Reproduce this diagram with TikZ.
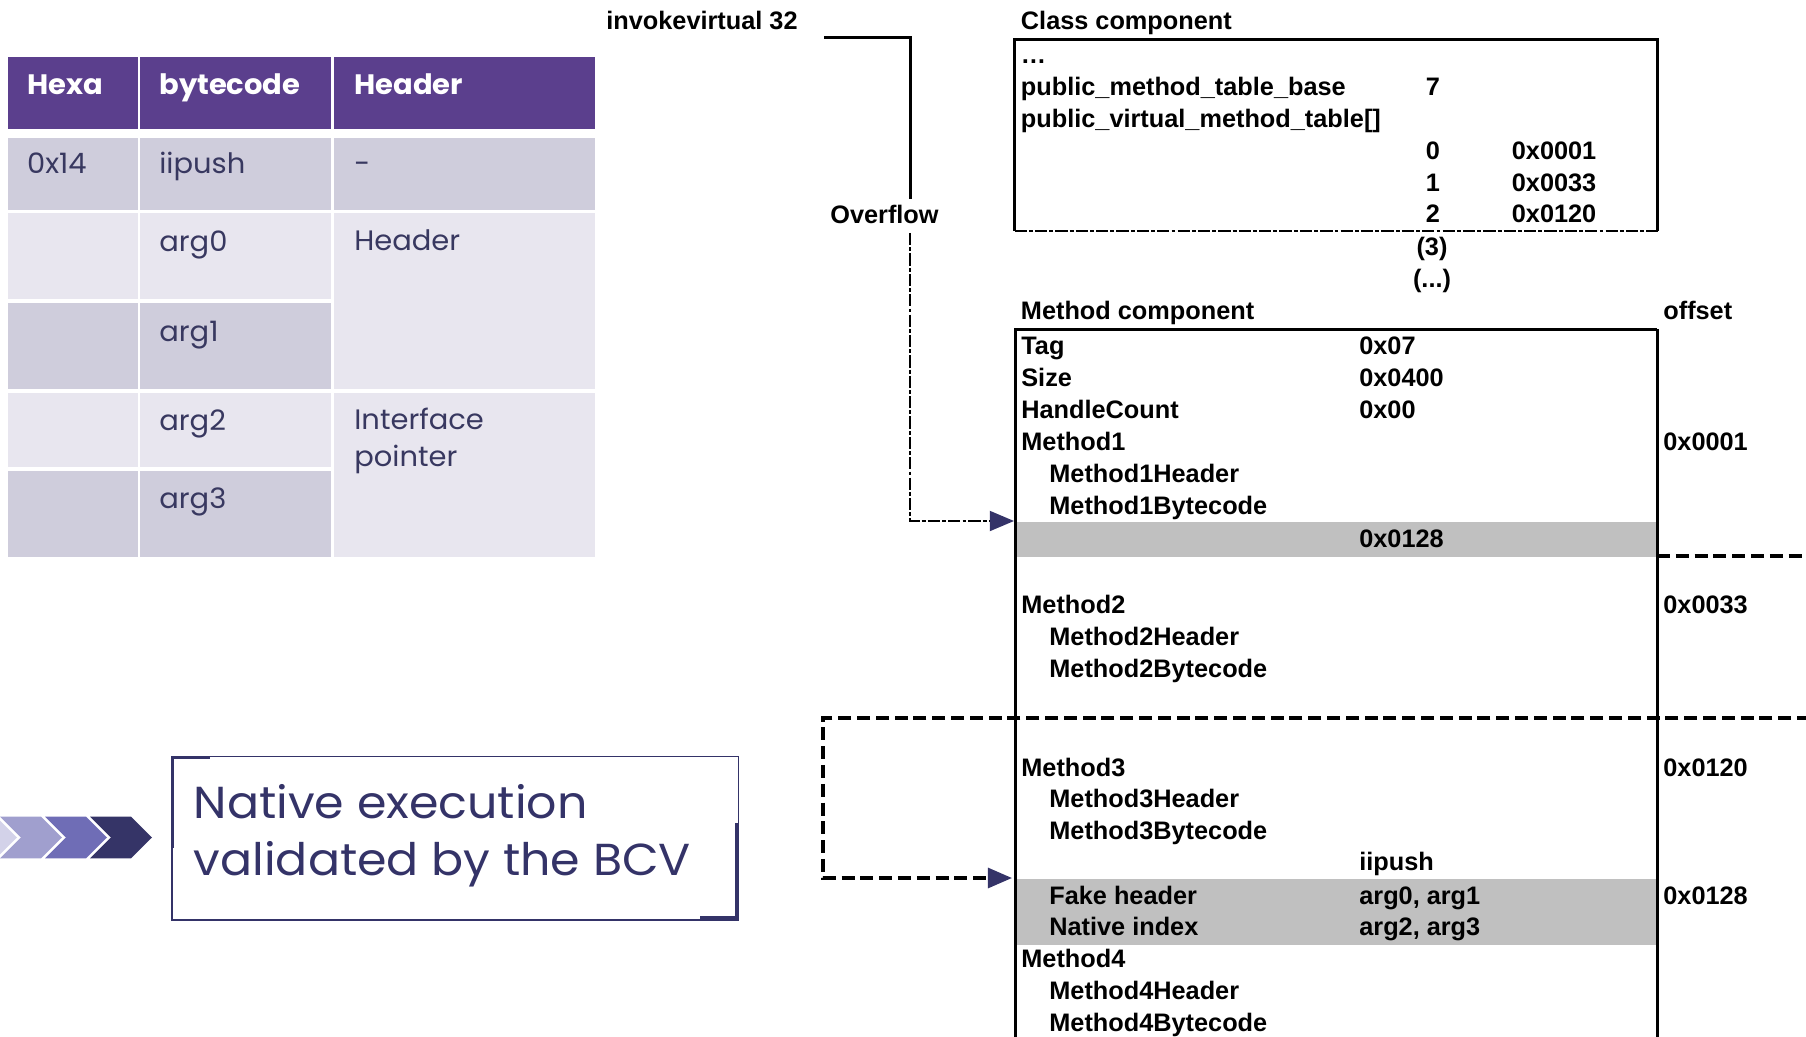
\documentclass[tikz,border=0pt]{standalone}
\usepackage{fontspec}
\setmainfont{Liberation Sans}
\newfontfamily\gothic{Poppins}[FakeStretch=1.03]
\newfontfamily\gothicwide{Poppins}[FakeStretch=1.06]
\usetikzlibrary{arrows.meta}

\definecolor{hdrpurple}{RGB}{91,63,141}
\definecolor{celldark}{RGB}{207,205,220}
\definecolor{celllight}{RGB}{232,230,239}
\definecolor{celltext}{RGB}{56,56,96}
\definecolor{navy}{RGB}{52,51,104}
\definecolor{bandgray}{RGB}{192,192,192}
\definecolor{chevA}{RGB}{211,210,233}
\definecolor{chevB}{RGB}{160,159,206}
\definecolor{chevC}{RGB}{111,109,182}
\definecolor{chevD}{RGB}{53,52,103}

\tikzset{
  lbl/.style={anchor=base west, inner sep=0pt, font=\bfseries\fontsize{14.4}{17}\selectfont},
  lblc/.style={anchor=base, inner sep=0pt, font=\bfseries\fontsize{14.4}{17}\selectfont},
  cell/.style={anchor=base west, inner sep=0pt, text=celltext, font=\gothic\fontsize{16}{19}\selectfont},
  hcell/.style={anchor=base west, inner sep=0pt, text=white, font=\gothic\bfseries\fontsize{16}{19}\selectfont},
  bigtext/.style={anchor=base west, inner sep=0pt, text=navy, font=\gothicwide\fontsize{25.5}{30}\selectfont},
  boxline/.style={line width=1.7pt},
  thindash/.style={line width=1.1pt, dash pattern=on 7pt off 1.2pt on 2.2pt off 1.2pt},
  thickdash/.style={line width=1.9pt, dash pattern=on 7.4pt off 3.3pt},
  navytip/.style={-{Triangle[length=13.8pt,width=11.4pt,color=navy,fill=navy]}},
}

\begin{document}
\begin{tikzpicture}[x=0.02cm, y=-0.02cm]
\useasboundingbox (0,0) rectangle (1806,1037);
\begin{scope}
\clip (0,0) rectangle (1806,1037);

% ---------- opcode table ----------
% header row
\fill[hdrpurple] (8,57.3) rectangle (137.8,129.3);
\fill[hdrpurple] (140.4,57.3) rectangle (331.4,129.3);
\fill[hdrpurple] (334,57.3) rectangle (595,129.3);
% iipush row
\fill[celldark] (8,138.3) rectangle (137.8,210);
\fill[celldark] (140.4,138.3) rectangle (331.4,210);
\fill[celldark] (334,138.3) rectangle (595,210);
% arg rows
\fill[celllight] (8,213) rectangle (137.8,299);
\fill[celllight] (140.4,213) rectangle (331.4,299);
\fill[celldark] (8,302.7) rectangle (137.8,389);
\fill[celldark] (140.4,302.7) rectangle (331.4,389);
\fill[celllight] (334,213) rectangle (595,389);
\fill[celllight] (8,392.7) rectangle (137.8,467);
\fill[celllight] (140.4,392.7) rectangle (331.4,467);
\fill[celldark] (8,470.7) rectangle (137.8,556.7);
\fill[celldark] (140.4,470.7) rectangle (331.4,556.7);
\fill[celllight] (334,392.7) rectangle (595,556.7);

\node[hcell] (thexa) at (26.8,95) {Hexa};
\node[hcell] (tbyte) at (159,95) {bytecode};
\node[hcell] (thead) at (354,95) {Header};
\node[cell] (t0x14) at (26.8,173.3) {0x14};
\node[cell] (tiipush) at (159,173.3) {iipush};
\node[cell] (tdash) at (354,173.3) {-};
\node[cell] (targ0) at (159,251.5) {arg0};
\node[cell] (theader) at (354,251) {Header};
\node[cell] (targ1) at (159,341.5) {arg1};
\node[cell] (targ2) at (159,430) {arg2};
\node[cell] (tintf) at (354,429.5) {Interface};
\node[cell] (tptr) at (354,466) {pointer};
\node[cell] (targ3) at (159,508) {arg3};

% ---------- chevrons and caption box ----------
\foreach \t/\c in {17/chevA, 62/chevB, 107/chevC, 152/chevD}{
  \fill[\c] (\t-62,816.7) -- (\t-21,816.7) -- (\t,837.5) -- (\t-21,858.3)
            -- (\t-62,858.3) -- (\t-41,837.5) -- cycle;
}
\draw[navy, line width=0.7pt] (172,756.8) rectangle (738.5,920);
\draw[navy, line width=1.9pt] (172.6,848) -- (172.6,757.6) -- (210,757.6);
\draw[navy, line width=2.2pt] (700,918) -- (736.6,918) -- (736.6,823);
\node[bigtext] (nat1) at (193.5,818.3) {Native execution};
\node[bigtext] (nat2) at (193.5,875) {validated by the BCV};

% ---------- class component ----------
\node[lbl] (clstitle) at (1020.6,29.3) {Class component};
\draw[boxline] (1014.5,231) -- (1014.5,39.3) -- (1657.5,39.3) -- (1657.5,231);
\draw[thindash] (1014.5,231) -- (1657.5,231);
\node[lbl] (cdots) at (1020.6,63.3) {…};
\node[lbl] (cbase) at (1020.6,95.5) {public\_method\_table\_base};
\node[lblc] (cseven) at (1433,95.5) {7};
\node[lbl] (cvmt) at (1020.6,127.3) {public\_virtual\_method\_table[]};
\node[lblc] (ci0) at (1433,159.5) {0};
\node[lbl] (cv0) at (1511.5,159.5) {0x0001};
\node[lblc] (ci1) at (1433,191.3) {1};
\node[lbl] (cv1) at (1511.5,191.3) {0x0033};
\node[lblc] (ci2) at (1433,222.8) {2};
\node[lbl] (cv2) at (1511.5,222.8) {0x0120};
\node[lblc] (ci3) at (1432,255.5) {(3)};
\node[lblc] (cimore) at (1432,287.5) {(...)};

% ---------- method component ----------
\fill[bandgray] (1016,522.3) rectangle (1656,557.3);
\fill[bandgray] (1016,879.3) rectangle (1656,945);
\draw[line width=1.4pt] (1015.5,1040) -- (1015.5,329.3) -- (1657,329.3);
\draw[boxline] (1657,329.3) -- (1657,1040);

\node[lbl] (mtitle) at (1020.6,319.3) {Method component};
\node[lbl] (moff) at (1663,319.3) {offset};

\node[lbl] (mtag) at (1021,355) {Tag};
\node[lbl] (vtag) at (1359,355) {0x07};
\node[lbl] (msize) at (1021,386.7) {Size};
\node[lbl] (vsize) at (1359,386.7) {0x0400};
\node[lbl] (mhc) at (1021,418.3) {HandleCount};
\node[lbl] (vhc) at (1359,418.3) {0x00};
\node[lbl] (mm1) at (1021,450.7) {Method1};
\node[lbl] (om1) at (1663,450.7) {0x0001};
\node[lbl] (mm1h) at (1049,482.3) {Method1Header};
\node[lbl] (mm1b) at (1049,514.3) {Method1Bytecode};
\node[lbl] (vjump) at (1359,547.3) {0x0128};
\node[lbl] (mm2) at (1021,613.3) {Method2};
\node[lbl] (om2) at (1663,613.3) {0x0033};
\node[lbl] (mm2h) at (1049,645.7) {Method2Header};
\node[lbl] (mm2b) at (1049,677.3) {Method2Bytecode};
\node[lbl] (mm3) at (1021,776) {Method3};
\node[lbl] (om3) at (1663,776) {0x0120};
\node[lbl] (mm3h) at (1049,807.3) {Method3Header};
\node[lbl] (mm3b) at (1049,839.3) {Method3Bytecode};
\node[lbl] (viipush) at (1359,870.7) {iipush};
\node[lbl] (mfake) at (1049,904) {Fake header};
\node[lbl] (vfake) at (1359,904) {arg0, arg1};
\node[lbl] (ofake) at (1663,904) {0x0128};
\node[lbl] (mnat) at (1049,935.7) {Native index};
\node[lbl] (vnat) at (1359,935.7) {arg2, arg3};
\node[lbl] (mm4) at (1021,967.3) {Method4};
\node[lbl] (mm4h) at (1049,999.3) {Method4Header};
\node[lbl] (mm4b) at (1049,1031) {Method4Bytecode};

% ---------- connectors ----------
\node[lbl] (invk) at (606,30) {invokevirtual 32};
\node[lbl] (ovf) at (830,224) {Overflow};
\coordinate (jmpA) at (824,37.7);
\coordinate (jmpB) at (910,199);
\coordinate (jmpC) at (910,233);
\coordinate (band1) at (1014,521);
\draw[boxline] (jmpA) -| (jmpB);
\draw[thindash, navytip] (jmpC) |- (band1);

\coordinate (edgeA) at (1657,556);
\coordinate (edgeAr) at (1810,556);
\draw[thickdash] (edgeA) -- (edgeAr);

\coordinate (edgeB) at (1810,718);
\coordinate (edgeBl) at (823,718);
\coordinate (band2) at (1012,878);
\draw[thickdash, navytip] (edgeB) -- (edgeBl) |- (band2);
\end{scope}
\end{tikzpicture}
\end{document}
